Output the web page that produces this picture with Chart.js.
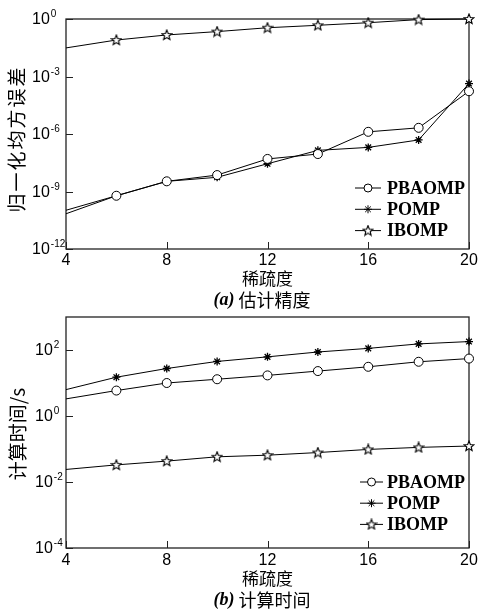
<!DOCTYPE html>
<html>
<head>
<meta charset="utf-8">
<script src="https://cdn.jsdelivr.net/npm/chart.js@4/dist/chart.umd.min.js"></script>
<style>
  body { margin: 0; background: #fff; }
  .box { width: 481px; position: relative; }
  #accBox { height: 310px; }
  #timeBox { height: 302px; }
</style>
</head>
<body>
<div class="box" id="accBox"><canvas id="accChart"></canvas></div>
<div class="box" id="timeBox"><canvas id="timeChart"></canvas></div>
<script>
// x axis: sparsity
const sparsity = [4, 6, 8, 10, 12, 14, 16, 18, 20];
const seriesNames = ['PBAOMP', 'POMP', 'IBOMP'];

// (a) normalized MSE
const accPBAOMP = [1.05e-10, 6e-10, 3.4e-9, 7.2e-9, 5e-8, 9e-8, 1.3e-6, 2.1e-6, 1.7e-4];
const accPOMP   = [6.9e-11, 6e-10, 3.4e-9, 5.5e-9, 2.8e-8, 1.4e-7, 2e-7, 4.9e-7, 4.3e-4];
const accIBOMP  = [0.031, 0.08, 0.147, 0.22, 0.35, 0.47, 0.64, 0.93, 1];

// (b) run time in seconds
const timePBAOMP = [3.3, 5.9, 10, 13, 17, 23, 31, 44, 55];
const timePOMP   = [6.3, 15, 27.5, 45, 62, 87, 112, 153, 180];
const timeIBOMP  = [0.024, 0.033, 0.043, 0.058, 0.065, 0.078, 0.097, 0.112, 0.123];

const xTicks = [4, 8, 12, 16, 20];
const accYTicks = [1e0, 1e-3, 1e-6, 1e-9, 1e-12];
const timeYTicks = [1e2, 1e0, 1e-2, 1e-4];

const CJK = '"Noto Sans CJK SC", sans-serif';
const SANS = '"Liberation Sans", Arial, sans-serif';
const SERIF = '"Liberation Serif", "Times New Roman", serif';

// five-point star marker
function pentagram() {
    const c = document.createElement('canvas');
    c.width = 12; c.height = 12;
    const g = c.getContext('2d');
    g.beginPath();
    for (let i = 0; i < 10; i++) {
        const r = i % 2 ? 2.3 : 5.3;
        const a = -Math.PI / 2 + i * Math.PI / 5;
        g.lineTo(6 + r * Math.cos(a), 6.3 + r * Math.sin(a));
    }
    g.closePath();
    g.fillStyle = '#fff';
    g.fill();
    g.strokeStyle = '#000';
    g.lineWidth = 1.1;
    g.stroke();
    return c;
}
const starMark = pentagram();
const markers = ['circle', 'star', starMark];
const markerSize = [4.5, 4, 4];

function makeDatasets(list) {
    return list.map((vals, i) => ({
        label: seriesNames[i],
        data: sparsity.map((x, j) => ({ x: x, y: vals[j] })),
        borderColor: '#000',
        borderWidth: 1,
        pointStyle: markers[i],
        pointRadius: (ctx) => ctx.dataIndex === 0 ? 0 : markerSize[i],
        pointBorderColor: '#000',
        pointBackgroundColor: '#fff',
        pointBorderWidth: i === 1 ? 1.3 : 1,
        tension: 0,
        clip: false
    }));
}

function decorations(cfg) {
    return {
        id: 'decorations',
        beforeDatasetsDraw(chart) {
            const { ctx, chartArea: a, scales } = chart;
            ctx.save();
            ctx.strokeStyle = '#222';
            ctx.lineWidth = 1.3;
            ctx.strokeRect(a.left, a.top, a.right - a.left, a.bottom - a.top);
            ctx.lineWidth = 1;
            // inward ticks
            xTicks.forEach((v) => {
                const px = Math.round(scales.x.getPixelForValue(v)) + 0.5;
                ctx.beginPath();
                ctx.moveTo(px, a.bottom);
                ctx.lineTo(px, a.bottom - 7);
                ctx.stroke();
            });
            cfg.yTicks.forEach((v) => {
                const py = Math.round(scales.y.getPixelForValue(v)) + 0.5;
                ctx.beginPath();
                ctx.moveTo(a.left, py);
                ctx.lineTo(a.left + 7, py);
                ctx.stroke();
            });
            ctx.restore();
        },
        afterDraw(chart) {
            const { ctx, chartArea: a, scales } = chart;
            ctx.save();
            ctx.fillStyle = '#000';
            // x tick labels
            ctx.font = '16px ' + SANS;
            ctx.textAlign = 'center';
            ctx.textBaseline = 'middle';
            xTicks.forEach((v) => {
                ctx.fillText(String(v), scales.x.getPixelForValue(v), cfg.xLabelY);
            });
            // y tick labels with superscript
            ctx.textAlign = 'left';
            cfg.yTicks.forEach((v) => {
                const py = scales.y.getPixelForValue(v);
                const exp = String(Math.round(Math.log10(v)));
                ctx.font = '16px ' + SANS;
                ctx.fillText('10', cfg.yLabelX, py + 1);
                const w = ctx.measureText('10').width;
                ctx.font = '10px ' + SANS;
                ctx.fillText(exp, cfg.yLabelX + w + 1, py - 4.5);
            });
            // axis titles
            ctx.font = '17px ' + CJK;
            ctx.textAlign = 'center';
            ctx.fillText('稀疏度', (a.left + a.right) / 2, cfg.xTitleY);
            ctx.save();
            ctx.translate(cfg.yTitleX, cfg.yTitleY);
            ctx.rotate(-Math.PI / 2);
            ctx.font = '19px ' + CJK;
            ctx.letterSpacing = cfg.yTitleGap + 'px';
            ctx.fillText(cfg.yTitle, 0, 0);
            ctx.restore();
            // caption
            ctx.font = 'italic bold 18px ' + SERIF;
            const tagW = ctx.measureText(cfg.tag).width;
            ctx.font = '18px ' + CJK;
            const capW = ctx.measureText(' ' + cfg.caption).width;
            const cx = cfg.captionX - (tagW + capW) / 2;
            ctx.textAlign = 'left';
            ctx.font = 'italic bold 18px ' + SERIF;
            ctx.fillText(cfg.tag, cx, cfg.captionY);
            ctx.font = '18px ' + CJK;
            ctx.fillText(' ' + cfg.caption, cx + tagW, cfg.captionY);
            // legend
            chart.data.datasets.forEach((ds, i) => {
                const ly = cfg.legend.y + i * cfg.legend.step;
                ctx.strokeStyle = '#000';
                ctx.lineWidth = 1;
                ctx.beginPath();
                ctx.moveTo(cfg.legend.x1, ly);
                ctx.lineTo(cfg.legend.x2, ly);
                ctx.stroke();
                ctx.fillStyle = '#fff';
                Chart.helpers.drawPoint(ctx, {
                    pointStyle: ds.pointStyle, radius: 4, rotation: 0, borderWidth: 1
                }, (cfg.legend.x1 + cfg.legend.x2) / 2, ly);
                ctx.fillStyle = '#000';
                ctx.font = 'bold 18px ' + SERIF;
                ctx.textBaseline = 'middle';
                ctx.fillText(ds.label, cfg.legend.tx, ly + 1);
            });
            ctx.restore();
        }
    };
}

function makeChart(id, datasets, yMin, yMax, pad, cfg) {
    return new Chart(document.getElementById(id), {
        type: 'line',
        data: { datasets: datasets },
        options: {
            responsive: true,
            maintainAspectRatio: false,
            animation: false,
            layout: { padding: pad },
            plugins: { legend: { display: false }, tooltip: { enabled: false } },
            scales: {
                x: { type: 'linear', min: 4, max: 20, display: false },
                y: { type: 'logarithmic', min: yMin, max: yMax, display: false }
            }
        },
        plugins: [decorations(cfg)]
    });
}

makeChart('accChart', makeDatasets([accPBAOMP, accPOMP, accIBOMP]), 1e-12, 1,
    { left: 66, right: 12, top: 19, bottom: 61 },
    {
        yTicks: accYTicks, yLabelX: 32, xLabelY: 261, xTitleY: 279,
        yTitle: '归一化均方误差', yTitleGap: 2, yTitleX: 17, yTitleY: 139,
        tag: '(a)', caption: '估计精度', captionX: 262, captionY: 300,
        legend: { x1: 355, x2: 381, tx: 387, y: 188, step: 21.3 }
    });

makeChart('timeChart', makeDatasets([timePBAOMP, timePOMP, timeIBOMP]), 1e-4, 1e3,
    { left: 66, right: 12, top: 7, bottom: 64 },
    {
        yTicks: timeYTicks, yLabelX: 35, xLabelY: 251, xTitleY: 269,
        yTitle: '计算时间/s', yTitleGap: 0, yTitleX: 18, yTitleY: 124,
        tag: '(b)', caption: '计算时间', captionX: 262, captionY: 290.5,
        legend: { x1: 360, x2: 383, tx: 387, y: 172, step: 21.2 }
    });
</script>
</body>
</html>
